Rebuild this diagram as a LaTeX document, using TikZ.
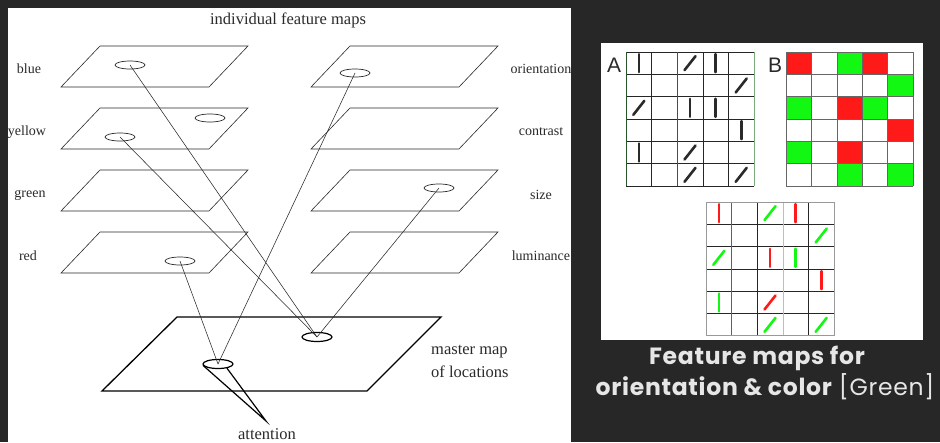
\documentclass[tikz,border=0pt]{standalone}
\usepackage{fontspec}
\setmainfont{Liberation Serif}
\newfontfamily\capfont[LetterSpace=3]{Poppins}
\newfontfamily\labfont{Liberation Sans}
\usetikzlibrary{shapes.geometric}
\definecolor{bg}{HTML}{272727}
\definecolor{ink}{HTML}{2A2A2A}
\definecolor{mred}{HTML}{FF1A1A}
\definecolor{mgreen}{HTML}{12F812}
\definecolor{dkgreen}{HTML}{3C7A3C}
\definecolor{ltgreen}{HTML}{9CD49C}
\definecolor{captxt}{HTML}{E6E6E6}
\tikzset{
  planeline/.style={draw=ink, line width=0.6pt, line join=miter},
  masterline/.style={draw=black, line width=1.3pt, line join=miter},
  fe/.style={draw=ink, ellipse, minimum width=30pt, minimum height=8pt, inner sep=0pt, line width=0.7pt},
  me/.style={draw=black, ellipse, minimum width=30pt, minimum height=9pt, inner sep=0pt, line width=1.2pt},
  conn/.style={draw=ink, line width=0.55pt},
  cone/.style={draw=black, line width=1.2pt},
  sidelab/.style={text=ink, font=\fontsize{14}{16}\selectfont, inner sep=0pt},
  biglab/.style={text=ink, font=\fontsize{16.5}{19}\selectfont, inner sep=0pt},
  gridln/.style={draw=black!85, line width=0.6pt},
  omark/.style={line width=2.6pt, line cap=round},
  letterlab/.style={text=ink, font=\labfont\fontsize{21}{22}\selectfont, inner sep=0pt},
  captext/.style={text=captxt, font=\capfont\fontsize{23.5}{26}\selectfont, inner sep=0pt}
}
\newcommand\fplane[2]{%
  \draw[planeline] (#1,#2) -- ++(148,0) -- ++(-39,41) -- ++(-148,0) -- cycle;}
% vertical and slash marks in cell units
\newcommand\vmark[3]{\draw[omark,draw=#3] (#2+0.5,#1+0.5) ++(0pt,9pt) -- ++(0pt,-18pt);}
\newcommand\smark[3]{\draw[omark,draw=#3] (#2+0.5,#1+0.5) ++(-5.5pt,-7pt) -- ++(11pt,14pt);}
\begin{document}
\begin{tikzpicture}[x=1pt,y=-1pt]
\useasboundingbox (0,0) rectangle (940,442);
\fill[bg] (0,0) rectangle (940,442);
% ---------- left panel ----------
\fill[white] (8,8) rectangle (571,442);
\begin{scope}
\clip (8,8) rectangle (571,442);
\node[biglab] (title) at (288,20) {individual feature maps};
% feature planes
\fplane{100}{46}
\fplane{100}{108}
\fplane{100}{170}
\fplane{100}{232}
\fplane{350}{46}
\fplane{350}{108}
\fplane{350}{170}
\fplane{350}{232}
% master map
\draw[masterline] (177,317) -- (441,317) -- (367,391) -- (102,391) -- cycle;
% labels
\node[sidelab] (lblue) at (29,69) {blue};
\node[sidelab] (lyellow) at (27,132) {yellow};
\node[sidelab] (lgreen) at (30,195) {green};
\node[sidelab] (lred) at (28,256) {red};
\node[sidelab] (lori) at (541,69) {orientation};
\node[sidelab] (lcon) at (541,132) {contrast};
\node[sidelab] (lsize) at (541,195) {size};
\node[sidelab] (llum) at (541,256) {luminance};
\node[biglab, anchor=west] (lmaster) at (431,352) {master map};
\node[biglab, anchor=west] (lloc) at (431,372) {of locations};
\node[biglab] (latt) at (267,434) {attention};
% ellipses
\node[fe] (eblue) at (130,65) {};
\node[fe] (eyel1) at (210,118) {};
\node[fe] (eyel2) at (120,137) {};
\node[fe] (ered) at (180,261) {};
\node[fe] (eori) at (355,73) {};
\node[fe] (esize) at (439,188) {};
\node[me] (mloc) at (317,337) {};
\node[me] (att) at (218,364) {};
\coordinate (apex) at (266,421);
% connectors
\draw[conn] (eblue.center) -- (mloc.center);
\draw[conn] (eyel2.center) -- (mloc.center);
\draw[conn] (esize.center) -- (mloc.center);
\draw[conn] (eori.center) -- (att.center);
\draw[conn] (ered.center) -- (att.center);
% attention cone
\draw[cone] (att.185) -- (apex) -- (att.335);
\end{scope}
% ---------- right panel ----------
\fill[white] (601,43) rectangle (923,340);
\node[letterlab] (la) at (614,65) {A};
\node[letterlab] (lb) at (775,65) {B};
% grid A
\begin{scope}[shift={(626,52)}, x=25.6pt, y=-22.33pt]
  \foreach \r in {0,...,6} \draw[gridln] (0,\r) -- (5,\r);
  \foreach \c in {1,3,4} \draw[gridln] (\c,0) -- (\c,6);
  \draw[gridln, draw=dkgreen!70!black] (0,0) -- (0,6);
  \draw[gridln, draw=dkgreen!80!black] (2,0) -- (2,6);
  \draw[gridln, draw=ltgreen!80!black] (5,0) -- (5,6);
  \vmark{0}{0}{ink} \smark{0}{2}{ink} \vmark{0}{3}{ink}
  \smark{1}{4}{ink}
  \smark{2}{0}{ink} \vmark{2}{2}{ink} \vmark{2}{3}{ink}
  \vmark{3}{4}{ink}
  \vmark{4}{0}{ink} \smark{4}{2}{ink}
  \smark{5}{2}{ink} \smark{5}{4}{ink}
\end{scope}
% grid B
\begin{scope}[shift={(786,52)}, x=25.4pt, y=-22.33pt]
  \foreach \r/\c/\col in {0/0/mred,0/2/mgreen,0/3/mred,1/4/mgreen,2/0/mgreen,2/2/mred,2/3/mgreen,3/4/mred,4/0/mgreen,4/2/mred,5/2/mgreen,5/4/mgreen}
    \fill[\col] (\c,\r) rectangle (\c+1,\r+1);
  \foreach \r in {0,...,6} \draw[gridln, draw=black!60] (0,\r) -- (5,\r);
  \foreach \c in {0,...,5} \draw[gridln, draw=black!60] (\c,0) -- (\c,6);
\end{scope}
% grid C
\begin{scope}[shift={(706,202)}, x=25.6pt, y=-22.33pt]
  \foreach \r in {1,...,5} \draw[gridln] (0,\r) -- (5,\r);
  \foreach \c in {2,4} \draw[gridln] (\c,0) -- (\c,6);
  \draw[gridln, draw=dkgreen] (1,0) -- (1,6);
  \draw[gridln, draw=ltgreen] (3,0) -- (3,6);
  \draw[draw=black!40, line width=1pt] (0,0) rectangle (5,6);
  \vmark{0}{0}{mred} \smark{0}{2}{mgreen} \vmark{0}{3}{mred}
  \smark{1}{4}{mgreen}
  \smark{2}{0}{mgreen} \vmark{2}{2}{mred} \vmark{2}{3}{mgreen}
  \vmark{3}{4}{mred}
  \vmark{4}{0}{mgreen} \smark{4}{2}{mred}
  \smark{5}{2}{mgreen} \smark{5}{4}{mgreen}
\end{scope}
% caption
\node[captext, font=\capfont\bfseries\fontsize{23.5}{26}\selectfont] (cap1) at (757,358) {Feature maps for};
\node[captext] (cap2) at (765,387) {{\bfseries orientation \& color} [Green]};
\end{tikzpicture}
\end{document}
